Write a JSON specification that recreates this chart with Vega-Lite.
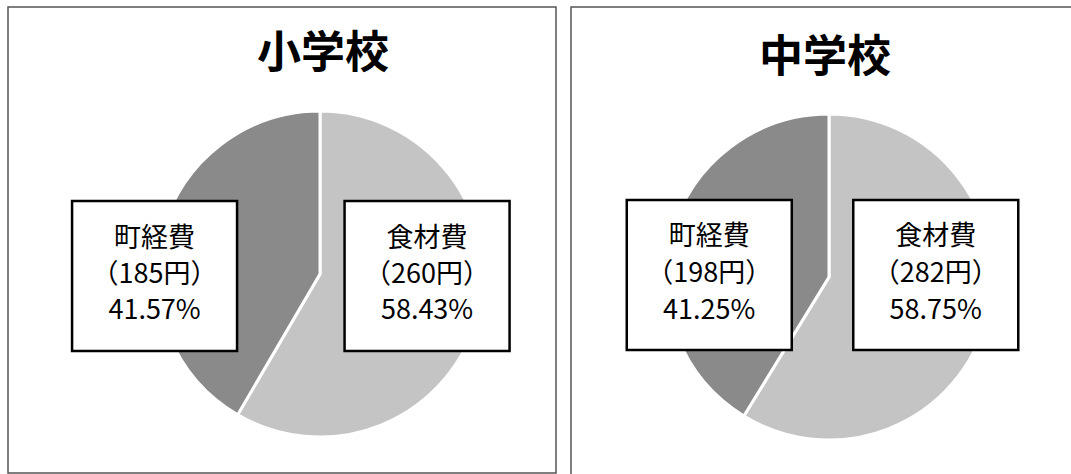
{
  "$schema": "https://vega.github.io/schema/vega-lite/v6.json",
  "background": "white",
  "padding": {"left": 7, "top": 6, "right": -8, "bottom": -8},
  "spacing": 13,
  "config": {
    "view": {"stroke": "#555555", "strokeWidth": 1.5},
    "font": "Noto Sans CJK JP"
  },
  "data": {
    "values": [
      {"school": "小学校", "cat": "食材費", "yen": 260, "pct": 58.43},
      {"school": "小学校", "cat": "町経費", "yen": 185, "pct": 41.57},
      {"school": "中学校", "cat": "食材費", "yen": 282, "pct": 58.75},
      {"school": "中学校", "cat": "町経費", "yen": 198, "pct": 41.25}
    ]
  },
  "transform": [
    {"calculate": "datum.cat + '\\n（' + datum.yen + '円）\\n' + format(datum.pct, '.2f') + '%'", "as": "label"}
  ],
  "hconcat": [
    {
      "width": 548,
      "height": 466,
      "transform": [{"filter": "datum.school === '小学校'"}],
      "layer": [
        {
          "mark": {"type": "arc", "radius": 163, "xOffset": 38, "yOffset": 34, "stroke": "white", "strokeWidth": 3},
          "encoding": {
            "theta": {"field": "yen", "type": "quantitative", "stack": true},
            "order": {"field": "cat", "type": "nominal", "sort": "descending"},
            "color": {"field": "cat", "type": "nominal", "scale": {"domain": ["食材費", "町経費"], "range": ["#c4c4c4", "#8a8a8a"]}, "legend": null}
          }
        },
        {
          "mark": {"type": "point", "shape": "M-1.1,-1L1.1,-1L1.1,1L-1.1,1Z", "size": 22500, "filled": true, "fill": "white", "stroke": "black", "strokeWidth": 2.5, "opacity": 1, "yOffset": 36},
          "encoding": {
            "x": {"field": "cat", "type": "nominal", "scale": {"type": "point", "domain": ["町経費", "食材費"], "padding": 0.5055, "align": 0.532}, "axis": null}
          }
        },
        {
          "mark": {"type": "text", "fontSize": 27, "lineBreak": "\n", "lineHeight": 36, "baseline": "middle", "yOffset": -1, "color": "black"},
          "encoding": {
            "x": {"field": "cat", "type": "nominal", "scale": {"type": "point", "domain": ["町経費", "食材費"], "padding": 0.5055, "align": 0.532}, "axis": null},
            "text": {"field": "label"}
          }
        },
        {
          "transform": [{"filter": "datum.cat === '食材費'"}],
          "mark": {"type": "text", "fontSize": 44, "fontWeight": "bold", "baseline": "middle", "align": "center", "xOffset": 41, "yOffset": -185, "color": "black"},
          "encoding": {"text": {"field": "school"}}
        }
      ]
    },
    {
      "width": 511,
      "height": 476,
      "transform": [{"filter": "datum.school === '中学校'"}],
      "layer": [
        {
          "mark": {"type": "arc", "radius": 163, "xOffset": 2.5, "yOffset": 32, "stroke": "white", "strokeWidth": 3},
          "encoding": {
            "theta": {"field": "yen", "type": "quantitative", "stack": true},
            "order": {"field": "cat", "type": "nominal", "sort": "descending"},
            "color": {"field": "cat", "type": "nominal", "scale": {"domain": ["食材費", "町経費"], "range": ["#c4c4c4", "#8a8a8a"]}, "legend": null}
          }
        },
        {
          "mark": {"type": "point", "shape": "M-1.1,-1L1.1,-1L1.1,1L-1.1,1Z", "size": 22500, "filled": true, "fill": "white", "stroke": "black", "strokeWidth": 2.5, "opacity": 1, "yOffset": 30},
          "encoding": {
            "x": {"field": "cat", "type": "nominal", "scale": {"type": "point", "domain": ["町経費", "食材費"], "padding": 0.628, "align": 0.486}, "axis": null}
          }
        },
        {
          "mark": {"type": "text", "fontSize": 27, "lineBreak": "\n", "lineHeight": 37, "baseline": "middle", "yOffset": -8, "color": "black"},
          "encoding": {
            "x": {"field": "cat", "type": "nominal", "scale": {"type": "point", "domain": ["町経費", "食材費"], "padding": 0.628, "align": 0.486}, "axis": null},
            "text": {"field": "label"}
          }
        },
        {
          "transform": [{"filter": "datum.cat === '食材費'"}],
          "mark": {"type": "text", "fontSize": 44, "fontWeight": "bold", "baseline": "middle", "align": "center", "xOffset": -1.5, "yOffset": -186, "color": "black"},
          "encoding": {"text": {"field": "school"}}
        }
      ]
    }
  ]
}
